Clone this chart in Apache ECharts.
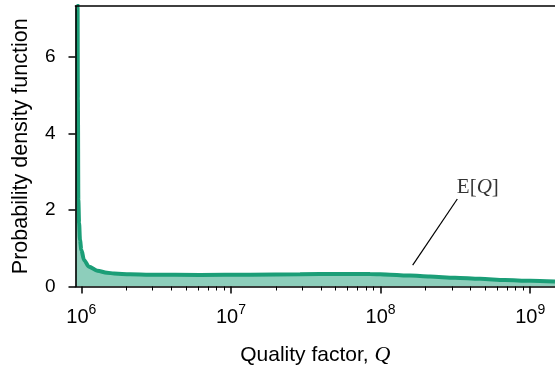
<!DOCTYPE html>
<html>
<head>
<meta charset="utf-8">
<script src="https://cdn.jsdelivr.net/npm/echarts@6/dist/echarts.min.js"></script>
<style>
  html, body { margin: 0; padding: 0; background: #fff; }
  #chart { width: 555px; height: 369px; }
</style>
</head>
<body>
<div id="chart"></div>
<script>
// Density of the quality factor Q, sampled along log10(Q)
const logQ = [5.962, 5.975, 5.977, 5.980, 5.985, 5.991, 6.000, 6.018, 6.051, 6.107,
              6.172, 6.219, 6.326, 6.459, 6.793, 7.128, 7.462, 7.729, 7.930, 8.064,
              8.198, 8.330, 8.498, 8.665, 8.832, 9.000, 9.166];
// Density curve (outline)
const density = [10, 7.3, 4.9, 2.27, 1.66, 1.22, 0.96, 0.69, 0.52, 0.41,
                 0.36, 0.34, 0.32, 0.31, 0.30, 0.31, 0.32, 0.33, 0.325, 0.31,
                 0.285, 0.26, 0.23, 0.20, 0.17, 0.15, 0.13];
// Shaded area under the density
const densityFill = [10, 7.3, 4.9, 2.27, 1.66, 1.22, 0.96, 0.69, 0.52, 0.41,
                     0.36, 0.34, 0.32, 0.31, 0.30, 0.31, 0.32, 0.33, 0.34, 0.335,
                     0.30, 0.255, 0.21, 0.165, 0.135, 0.11, 0.09];
// Expected value of Q
const meanQ = 1.64e8;
// Tick labels
const majorExponents = [6, 7, 8, 9];
const yTicks = [0, 2, 4, 6];

const minorTicks = [];
[6, 7, 8].forEach(d => { for (let k = 2; k <= 9; k++) minorTicks.push(d + Math.log10(k)); });

const xMin = 5.961, xMax = 9.166;
const sans = 'Liberation Sans, Arial, sans-serif';
const serif = 'Liberation Serif, Times New Roman, serif';

const chart = echarts.init(document.getElementById('chart'), null, { renderer: 'canvas' });

const baseX = {
  type: 'value', min: xMin, max: xMax, position: 'bottom', offset: 0, z: 5,
  splitLine: { show: false }, axisLine: { show: false }, axisLabel: { show: false },
  axisTick: { show: false }
};

chart.setOption({
  animation: false,
  grid: { left: 75.5, right: 0, top: 6, bottom: 82.5, containLabel: false, outerBoundsMode: 'none' },
  xAxis: [
    Object.assign({}, baseX, {
      axisLine: { show: true, lineStyle: { color: '#000', width: 1.6 } },
      axisTick: { show: true, length: 7, lineStyle: { color: '#000', width: 1.5 }, customValues: majorExponents },
      axisLabel: {
        show: true, margin: 17, customValues: majorExponents,
        formatter: v => '{b|10}{e|' + Math.round(v) + '}',
        rich: {
          b: { fontSize: 20, fontFamily: sans, color: '#000', verticalAlign: 'bottom', lineHeight: 24 },
          e: { fontSize: 14, fontFamily: sans, color: '#000', verticalAlign: 'top', lineHeight: 24 }
        }
      },
      name: '{a|Quality factor, }{q|Q}',
      nameLocation: 'middle', nameGap: 58,
      nameTextStyle: {
        rich: {
          a: { fontSize: 21, fontFamily: sans, color: '#000' },
          q: { fontSize: 22, fontFamily: serif, fontStyle: 'italic', color: '#000' }
        }
      }
    }),
    Object.assign({}, baseX, {
      axisTick: { show: true, length: 4, lineStyle: { color: '#000', width: 1 }, customValues: minorTicks }
    }),
    Object.assign({}, baseX, {
      position: 'top',
      axisLine: { show: true, lineStyle: { color: '#000', width: 1.6 } }
    })
  ],
  yAxis: {
    type: 'value', min: 0, max: 7.34, z: 5,
    splitLine: { show: false },
    axisLine: { show: true, lineStyle: { color: '#000', width: 1.6 } },
    axisTick: { show: true, length: 7, lineStyle: { color: '#000', width: 1.5 }, customValues: yTicks },
    axisLabel: { margin: 20, customValues: yTicks, fontSize: 19, fontFamily: sans, color: '#000' },
    name: 'Probability density function',
    nameLocation: 'middle', nameGap: 43,
    nameTextStyle: { fontSize: 21.5, fontFamily: sans, color: '#000' }
  },
  series: [
    {
      type: 'line', xAxisIndex: 0,
      data: logQ.map((x, i) => [x, densityFill[i]]),
      smooth: 0.3, smoothMonotone: 'x', showSymbol: false, silent: true,
      lineStyle: { width: 0 },
      areaStyle: { color: '#1b9e77', opacity: 0.5 },
      z: 1
    },
    {
      type: 'line', xAxisIndex: 0,
      data: logQ.map((x, i) => [x, density[i]]),
      smooth: 0.3, smoothMonotone: 'x', showSymbol: false, silent: true,
      lineStyle: { width: 4, color: '#1b9e77' },
      z: 2,
      markLine: {
        silent: true, symbol: ['none', 'none'], animation: false,
        label: { show: false },
        lineStyle: { color: '#000', width: 1.2, type: 'solid' },
        data: [[{ coord: [Math.log10(meanQ), 0.56] }, { coord: [8.513, 2.29] }]]
      }
    },
    {
      type: 'scatter', xAxisIndex: 0,
      data: [[8.51, 2.58]],
      symbolSize: 0, silent: true,
      label: {
        show: true, position: 'right', distance: 0,
        formatter: '{r|E[}{i|Q}{r|]}',
        rich: {
          r: { fontSize: 21, fontFamily: serif, color: '#000' },
          i: { fontSize: 21, fontFamily: serif, fontStyle: 'italic', color: '#000' }
        }
      }
    }
  ]
});
</script>
</body>
</html>
